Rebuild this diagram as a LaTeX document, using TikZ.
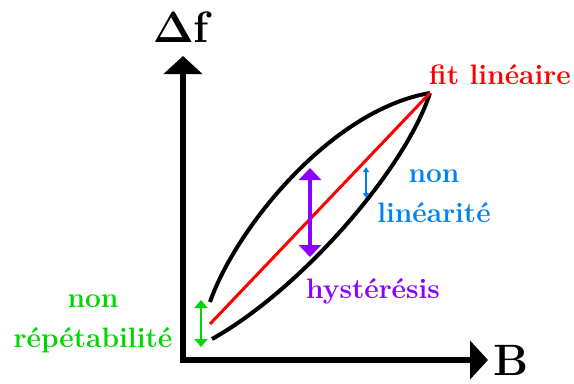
\documentclass[tikz,border=0pt]{standalone}
\usepackage{amsmath,amssymb}
\usepackage{tikz}
\usetikzlibrary{positioning,arrows.meta}

\definecolor{hystcol}{RGB}{140,0,255}
\definecolor{nlincol}{RGB}{0,130,240}
\definecolor{repcol}{RGB}{0,215,0}

\begin{document}
\begin{tikzpicture}[x=0.02cm, y=-0.02cm,
    every node/.style={align=center, font=\fontsize{16}{19}\selectfont\bfseries},
    axis/.style={line width=0.11cm, line join=miter, -{Triangle[length=0.36cm,width=0.76cm]}},
    cycle/.style={line width=0.08cm},
    fitline/.style={line width=0.06cm, red},
    bigarrow/.style={line width=0.08cm, hystcol, {Triangle[length=0.24cm,width=0.44cm]}-{Triangle[length=0.24cm,width=0.44cm]}}]
  \useasboundingbox (0,0) rectangle (574,383);
  % axes
  \coordinate (yend) at (183,56);
  \coordinate (orig) at (183,360);
  \coordinate (xend) at (488,360);
  \draw[axis] (orig) -- (yend);
  \draw[axis] ([xshift=-0.055cm]orig) -- (xend);
  \node[font=\fontsize{25}{28}\selectfont\bfseries\boldmath] (df) at (181,27) {$\Delta$f};
  \node[font=\fontsize{25}{28}\selectfont\bfseries, anchor=west, inner sep=1pt] (bb) at (491,360) {B};
  % cycle
  \coordinate (top) at (430,93);
  \coordinate (upst) at (210,302);
  \coordinate (lost) at (212,339);
  \coordinate (fitst) at (210,324);
  \draw[cycle] (upst) .. controls (235,230) and (330,110) .. (top);
  \draw[cycle] (lost) .. controls (300,290) and (405,170) .. (top);
  \draw[fitline] (fitst) -- (top);
  \node[red] (fit) at (500,75) {fit linéaire};
  % hysteresis
  \coordinate (hyA) at (310,168);
  \coordinate (hyB) at (310,257);
  \draw[bigarrow] (hyA) -- (hyB);
  \node[hystcol] (hyst) at (373,291) {hystérésis};
  % non linearite
  \coordinate (nlA) at (366,167);
  \coordinate (nlB) at (366,198);
  \draw[line width=0.026cm, nlincol, {Triangle[length=0.1cm,width=0.12cm]}-{Triangle[length=0.1cm,width=0.12cm]}] (nlA) -- (nlB);
  \node[nlincol] (nlin) at (434,196) {non\\[4pt]linéarité};
  % non repetabilite
  \coordinate (rpA) at (201,300);
  \coordinate (rpB) at (201,347);
  \draw[line width=0.05cm, repcol, {Triangle[length=0.16cm,width=0.26cm]}-{Triangle[length=0.16cm,width=0.26cm]}] (rpA) -- (rpB);
  \node[repcol] (rep) at (93,324) {non\\[4pt]répétabilité};
\end{tikzpicture}
\end{document}
